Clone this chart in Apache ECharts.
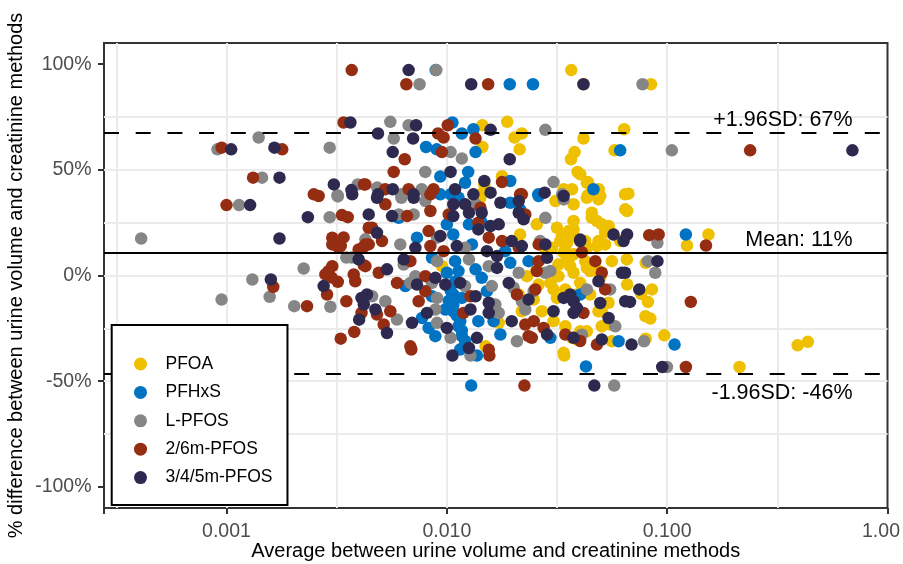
<!DOCTYPE html>
<html>
<head>
<meta charset="utf-8">
<script src="https://cdn.jsdelivr.net/npm/echarts@6/dist/echarts.min.js"></script>
<style>
  html, body { margin: 0; padding: 0; background: #fff; }
  #chart { width: 903px; height: 564px; }
</style>
</head>
<body>
<div id="chart"></div>
<script>
// group names (legend order)
var groupNames = ['PFOA', 'PFHxS', 'L-PFOS', '2/6m-PFOS', '3/4/5m-PFOS'];

// [average of the two methods, % difference]
var pfoa = [
  [0.0367,97.2],[0.0417,90.5],[0.0844,90.5],
  [0.0145,71.1],[0.0188,72.7],[0.0203,65.3],[0.0219,67.2],[0.0638,69.2],
  [0.0145,60.8],[0.0214,59.7],[0.0417,64.8],[0.038,58.4],[0.0366,55.0],[0.0577,59.2],
  [0.0392,49.0],[0.0178,47.0],[0.0437,44.2],[0.0148,43.1],[0.0339,40.8],[0.037,40.8],
  [0.0489,40.8],[0.0497,37.6],[0.0437,38.0],[0.0142,38.4],[0.0644,38.4],[0.0667,38.7],[0.0658,30.5],
  [0.154,19.4],[0.123,14.2],[0.0799,6.0],[0.0658,-4.3],[0.0762,-8.7],[0.0853,-6.6],
  [0.0818,-12.5],[0.0797,-19.3],[0.0839,-20.4],[0.097,-28.3],[0.0799,-29.9],
  [0.391,-33.0],[0.435,-31.4],[0.213,-43.3],[0.0341,-37.9],
  [0.0142,36.8],[0.0311,35.2],[0.0376,33.7],[0.0432,36.8],[0.0488,36.0],[0.0645,31.3],
  [0.0256,24.2],[0.0316,22.6],[0.0376,25.8],[0.0455,29.7],[0.048,25.8],[0.0542,23.4],
  [0.0215,19.4],[0.03,13.1],[0.0333,18.7],[0.0357,21.0],[0.0345,13.9],[0.0376,18.7],
  [0.0425,16.3],[0.0488,16.3],[0.0551,21.0],[0.0612,16.3],
  [0.00951,4.4],[0.0231,-0.3],[0.0321,5.2],[0.0321,-0.3],[0.0357,7.6],[0.0376,1.3],
  [0.0432,3.6],[0.0488,2.1],[0.0561,6.8],[0.0656,7.6],
  [0.0212,-9.0],[0.0248,-11.4],[0.0295,-3.5],[0.0316,-10.6],[0.0345,-6.6],[0.0447,-9.0],[0.0542,-12.9],
  [0.0172,-22.4],[0.0219,-16.9],[0.0305,-21.6],[0.0345,-24.0],[0.0488,-16.9],[0.0505,-24.0],[0.0403,-26.4],
  [0.015,-33.5],[0.037,-29.5],[0.0389,-30.3],[0.0561,-31.1],[0.0339,-36.6],
  [0.0403,47.9],[0.0432,43.9],[0.0455,27.3],[0.0376,21.8],[0.0505,24.2],[0.0523,20.5],
  [0.0345,19.4],[0.0327,16.3],[0.0351,15.5],[0.0403,16.3],[0.0432,13.1],[0.048,13.9],[0.0523,14.7],
  [0.0281,12.3],[0.0339,10.8],[0.0376,10.0],[0.0351,8.4],[0.0425,6.8],[0.0447,2.1],[0.0363,4.4],
  [0.0256,2.9],[0.0403,-3.5],[0.0497,-1.1],[0.0261,-4.3],[0.0305,-6.6],[0.0389,-9.0],
  [0.0505,-16.9],[0.027,-16.9],[0.0551,-23.2],[0.0432,-26.4]
];
var pfhxs = [
  [0.0193,90.5],[0.0246,90.5],[0.0089,97.2],[0.0106,72.4],[0.0117,67.2],[0.0132,69.2],
  [0.00805,60.8],[0.009,59.7],[0.0135,58.4],[0.0612,59.2],
  [0.00934,46.8],[0.0125,49.0],[0.0121,43.9],[0.0194,44.7],[0.00934,38.4],[0.0104,38.4],[0.026,38.4],
  [0.1216,19.4],[0.108,-32.7],[0.0129,-52.1],[0.0428,-43.0],[0.0137,-37.9],[0.0115,-35.0],
  [0.0113,36.8],[0.0194,34.4],[0.0261,37.6],[0.0463,40.8],
  [0.00605,27.3],[0.01,24.2],[0.0126,24.2],[0.0144,25.0],[0.0215,31.3],
  [0.00732,17.9],[0.0107,19.4],[0.013,14.7],[0.0184,11.5],
  [0.00856,8.4],[0.01,1.3],[0.0109,6.8],[0.0113,2.1],[0.0135,2.9],[0.0144,-1.1],[0.0194,6.0],[0.0235,6.8],
  [0.00648,-5.0],[0.00856,-9.8],[0.0107,-9.0],[0.0117,-10.6],[0.0152,-7.4],[0.0403,-9.0],
  [0.00772,-20.1],[0.00827,-24.8],[0.00984,-16.1],[0.0107,-16.9],[0.0115,-21.6],[0.0139,-21.6],[0.0163,-21.6],
  [0.00887,-28.7],[0.0117,-28.7],[0.0175,-27.9],[0.0295,-29.5],[0.0602,-31.1],
  [0.0102,-12.0],[0.0107,-14.0],[0.0111,-19.0],[0.0113,-24.0],[0.0117,-26.0],[0.0121,-31.0],
  [0.0119,-34.0],[0.0104,-7.0],[0.0109,-3.0]
];
var lpfos = [
  [0.0014,65.3],[0.00091,59.7],[0.00294,60.5],[0.00145,46.3],[0.00394,43.1],[0.00319,38.0],
  [0.00114,33.3],[0.00294,27.6],[0.00041,17.5],[0.0035,8.5],[0.0037,8.5],[0.00224,3.3],
  [0.00131,-1.9],[0.00157,-10.1],[0.00095,-11.4],[0.00203,-14.5],[0.00296,-14.8],
  [0.00896,97.2],[0.00752,90.5],[0.0773,90.5],[0.105,59.2],[0.0901,19.1],[0.0903,15.5],
  [0.0818,6.8],[0.0883,1.3],[0.0785,-31.1],[0.0998,-43.3],[0.0575,-52.1],[0.0128,-37.9],
  [0.00554,72.7],[0.00671,71.1],[0.00574,64.8],[0.0104,58.4],[0.0117,55.3],[0.00798,49.0],
  [0.0305,44.2],[0.00483,41.6],[0.00621,38.4],[0.00769,40.8],[0.00811,38.4],[0.0334,38.4],[0.028,68.9],
  [0.00622,36.8],[0.00799,35.2],[0.0135,33.7],[0.0339,36.0],
  [0.00605,28.9],[0.00707,28.9],[0.028,27.3],
  [0.00615,14.7],[0.00903,17.9],[0.0121,13.1],[0.0265,16.3],
  [0.00637,5.2],[0.0072,-0.3],[0.00903,6.8],[0.0126,7.6],[0.0155,4.4],[0.0212,1.3],[0.028,1.3],
  [0.00458,-9.8],[0.00526,-12.2],[0.00683,-3.5],[0.00856,-3.5],[0.00903,-10.6],[0.0121,-5.0],
  [0.016,-5.0],[0.0166,-13.7],[0.0201,-5.8],[0.0219,-12.2],
  [0.00594,-20.8],[0.00887,-16.1],[0.00903,-22.4],[0.0172,-17.7],[0.0227,-16.1],[0.0581,-24.0],
  [0.0104,-29.5],[0.0208,-31.1],[0.0032,37.4],
  [0.0295,2.1],[0.0248,-7.4],[0.0432,-6.6],[0.0551,-6.6],[0.041,-28.0],[0.00427,17.1]
];
var m26pfos = [
  [0.0037,97.2],[0.0034,72.4],[0.00095,60.5],[0.00179,59.7],[0.00132,46.3],[0.0042,43.1],
  [0.00249,38.4],[0.00262,37.6],[0.001,33.3],[0.00334,28.6],[0.00355,27.6],
  [0.0031,16.0],[0.0033,14.0],[0.0034,18.0],[0.0042,4.9],[0.0029,2.0],[0.003,-1.0],[0.0032,-3.0],
  [0.00163,-5.4],[0.00232,-14.5],[0.0035,-12.2],[0.0041,-17.7],[0.0038,-26.7],[0.0033,-29.9],
  [0.00655,90.5],[0.0154,90.5],[0.0829,19.1],[0.0915,19.4],[0.15,14.2],[0.128,-12.5],[0.238,59.2],
  [0.1216,-43.3],[0.0225,-52.1],[0.0156,-37.9],[0.0069,-35.0],
  [0.0101,71.1],[0.00912,67.2],[0.00967,65.3],[0.0135,64.8],[0.0095,58.4],[0.00644,55.0],
  [0.00574,49.0],[0.0178,44.2],[0.00427,43.1],[0.00525,40.8],[0.00671,40.8],[0.0087,40.8],[0.0215,38.4],
  [0.00526,33.7],[0.00842,38.4],[0.0142,32.1],[0.0219,38.4],
  [0.0066,28.1],[0.00842,30.5],[0.0102,28.9],[0.0139,25.0],[0.0227,28.9],
  [0.00458,22.6],[0.00508,16.3],[0.00427,14.7],[0.00827,21.0],[0.00842,13.9],[0.00967,11.5],
  [0.0155,17.9],[0.0178,16.3],[0.0212,13.1],[0.0261,14.7],
  [0.00427,4.4],[0.00491,1.3],[0.00683,6.8],[0.00799,-0.3],[0.0261,6.8],[0.0256,2.1],[0.0472,6.8],[0.0505,1.3],
  [0.00594,-3.5],[0.00799,-7.4],[0.0128,-9.8],[0.0208,-9.0],[0.0252,-6.6],[0.0523,-6.6],
  [0.00482,-18.5],[0.00554,-16.9],[0.00517,-23.2],[0.00745,-12.2],[0.0119,-17.7],[0.0227,-23.2],
  [0.0275,-24.8],[0.0417,-17.7],
  [0.00683,-33.5],[0.0155,-35.1],[0.0235,-28.7],[0.0345,-27.9],[0.048,-32.7],
  [0.041,11.0],[0.0248,-21.6],[0.0403,-31.0],[0.0243,-29.5],
  [0.00302,17.9],[0.00302,14.7],[0.00323,13.1],[0.00442,22.6],[0.00442,14.7],[0.00398,12.3],
  [0.00418,13.4],[0.00302,4.4],[0.00281,0.5],[0.00378,0.5],[0.00384,-2.7],[0.00286,-9.0]
];
var m345pfos = [
  [0.00365,72.4],[0.00105,59.7],[0.00165,60.5],[0.00174,46.3],[0.00307,43.1],[0.00369,40.4],
  [0.00128,33.3],[0.00234,27.6],[0.00174,17.5],[0.00159,-1.9],[0.00276,-5.0],[0.0041,-10.6],
  [0.0042,-13.7],[0.004,-20.9],
  [0.00671,97.2],[0.0129,90.5],[0.0417,90.5],[0.693,59.2],[0.0903,6.8],[0.0644,1.3],[0.0747,-6.6],
  [0.0678,-12.5],[0.0689,-32.7],[0.095,-43.3],[0.0467,-52.1],[0.0106,-37.9],
  [0.00725,71.1],[0.00487,67.2],[0.00703,64.8],[0.0158,68.9],[0.00568,58.4],[0.0193,55.0],
  [0.0104,49.0],[0.0148,44.7],[0.00487,38.4],[0.00568,40.8],[0.00706,38.4],[0.0109,40.8],
  [0.0132,38.4],[0.0158,39.2],[0.0278,39.2],[0.0658,19.4],
  [0.00482,36.8],[0.00707,36.8],[0.0107,33.7],[0.0121,33.7],[0.0175,34.4],[0.0212,35.2],[0.0339,37.6],
  [0.00564,28.1],[0.0107,28.1],[0.0126,29.7],[0.0144,29.7],[0.0172,24.2],[0.0212,29.7],[0.0223,26.6],
  [0.00482,20.2],[0.0072,13.1],[0.00934,18.7],[0.0111,13.9],[0.0139,21.8],[0.0158,23.4],[0.0152,11.5],
  [0.0197,16.3],[0.0219,13.9],[0.028,14.7],[0.0403,16.3],[0.0571,19.4],[0.0634,16.3],
  [0.00535,2.9],[0.00637,7.6],[0.00887,-1.1],[0.0169,3.6],[0.0169,9.2],[0.0285,8.4],[0.0623,1.3],
  [0.00434,-9.0],[0.00732,-4.3],[0.00984,-4.3],[0.0115,-3.5],[0.0135,-9.8],[0.0155,-12.9],
  [0.0191,-3.5],[0.0235,-11.4],[0.0363,-9.0],[0.0376,-12.2],[0.0488,-2.7],[0.0645,-12.2],
  [0.00474,-16.1],[0.00695,-22.4],[0.00813,-17.7],[0.01,-24.8],[0.0128,-16.1],[0.0155,-17.7],
  [0.0197,-21.6],[0.0305,-16.9],[0.0376,-17.7],[0.0542,-20.1],
  [0.00535,-27.2],[0.0126,-34.3],[0.0137,-29.5],[0.0285,-27.9],[0.0505,-30.3],
  [0.0403,17.0],[0.0339,-10.6],[0.0389,-15.3],[0.0497,-13.0],[0.0376,-29.5],
  [0.00372,38.4],[0.00442,28.9],[0.00398,7.6]
];

// bias and limits of agreement (%)
var meanDiff = 10.55;
var upperLoA = 67.4;
var lowerLoA = -46.3;

// axis ticks
var xTickValues = [0.001, 0.01, 0.1, 1];
var xTickLabels = ['0.001', '0.010', '0.100', '1.00'];
var yTickValues = [-100, -50, 0, 50, 100];

var groupColors = ['#EFC000', '#0073C2', '#868686', '#952D13', '#2E2A4F'];
var font = "'Liberation Sans', Arial, sans-serif";
var gridLineStyle = { color: '#EBEBEB', width: 2 };

var chart = echarts.init(document.getElementById('chart'));

var groups = [pfoa, pfhxs, lpfos, m26pfos, m345pfos];
var series = groups.map(function (pts, i) {
  return {
    name: groupNames[i],
    type: 'scatter',
    data: pts,
    symbolSize: 12.5,
    itemStyle: { color: groupColors[i], opacity: 1 },
    emphasis: { disabled: true },
    silent: true
  };
});

// mean and +-1.96SD lines on top of the points (legend still covers them)
series.push({
  name: 'limits',
  type: 'line',
  data: [],
  silent: true,
  z: 3,
  markLine: {
    silent: true,
    z: 3,
    symbol: ['none', 'none'],
    animation: false,
    label: { color: '#000', fontSize: 21.5, fontFamily: font },
    data: [
      { yAxis: upperLoA, lineStyle: { color: '#000', width: 2, type: [15, 16.7] },
        label: { position: 'insideEndTop', distance: [35, 1.5],
                 formatter: '+1.96SD: ' + Math.round(upperLoA) + '%' } },
      { yAxis: meanDiff, lineStyle: { color: '#000', width: 2, type: 'solid' },
        label: { position: 'insideEndTop', distance: [35, 2.5],
                 formatter: 'Mean: ' + Math.round(meanDiff) + '%' } },
      { yAxis: lowerLoA, lineStyle: { color: '#000', width: 2, type: [15, 16.7] },
        label: { position: 'insideEndBottom', distance: [35, 9],
                 formatter: '-1.96SD: ' + Math.round(lowerLoA) + '%' } }
    ]
  }
});

var option = {
  animation: false,
  backgroundColor: '#fff',
  textStyle: { fontFamily: font },
  grid: {
    left: 104, right: 15.5, top: 43, bottom: 56,
    outerBoundsMode: 'none',
    containLabel: false,
    show: true, borderColor: '#333333', borderWidth: 2, backgroundColor: '#fff'
  },
  legend: {
    data: groupNames.map(function (n) { return { name: n, icon: 'circle' }; }),
    orient: 'vertical',
    left: 111.7, top: 325,
    z: 20,
    padding: [29, 15, 17.4, 22.3],
    itemWidth: 40, itemHeight: 13, itemGap: 8.4,
    backgroundColor: '#fff', borderColor: '#000', borderWidth: 2,
    selectedMode: false,
    textStyle: { fontSize: 17.5, lineHeight: 20, color: '#000', fontFamily: font }
  },
  xAxis: [
    {
      type: 'log', logBase: 10,
      min: 0.000278, max: 1,
      name: 'Average between urine volume and creatinine methods',
      nameLocation: 'middle', nameGap: 33, nameMoveOverlap: false,
      nameTextStyle: { fontSize: 20, color: '#000', fontFamily: font },
      axisLine: { show: false, onZero: false },
      axisTick: { show: true, length: 6, lineStyle: { color: '#333333', width: 2 } },
      axisLabel: {
        color: '#4D4D4D', fontSize: 19.5, fontFamily: font, margin: 14,
        formatter: function (v) {
          for (var i = 0; i < xTickValues.length; i++) {
            if (Math.abs(v / xTickValues[i] - 1) < 1e-6) {
              // last label sits a little inside the right edge
              return i === xTickValues.length - 1 ? '{last|' + xTickLabels[i] + '}' : xTickLabels[i];
            }
          }
          return '';
        },
        rich: {
          last: { color: '#4D4D4D', fontSize: 19.5, fontFamily: font, padding: [0, 13, 0, 0] }
        }
      },
      splitLine: { show: true, showMinLine: false, showMaxLine: false, lineStyle: gridLineStyle }
    },
    {
      // half-decade grid lines
      type: 'log', logBase: Math.sqrt(10), splitNumber: 10,
      min: 0.000278, max: 1,
      position: 'bottom',
      axisLine: { show: false, onZero: false }, axisTick: { show: false }, axisLabel: { show: false },
      splitLine: { show: true, showMinLine: false, showMaxLine: false, lineStyle: gridLineStyle }
    }
  ],
  yAxis: {
    type: 'value', min: -110, max: 110,
    name: '% difference between urine volume and creatinine methods',
    nameLocation: 'middle', nameGap: 78, nameMoveOverlap: false,
    nameTextStyle: { fontSize: 20, color: '#000', fontFamily: font },
    axisLine: { show: false },
    axisTick: { show: true, length: 6, customValues: yTickValues, lineStyle: { color: '#333333', width: 2 } },
    axisLabel: {
      color: '#4D4D4D', fontSize: 19.5, fontFamily: font, margin: 12.5,
      customValues: yTickValues,
      formatter: function (v) { return v + '%'; }
    },
    splitLine: { show: true, showMinLine: false, showMaxLine: false, lineStyle: gridLineStyle },
    minorTick: { show: false, splitNumber: 2 },
    minorSplitLine: { show: true, lineStyle: gridLineStyle }
  },
  series: series
};

chart.setOption(option);
</script>
</body>
</html>
